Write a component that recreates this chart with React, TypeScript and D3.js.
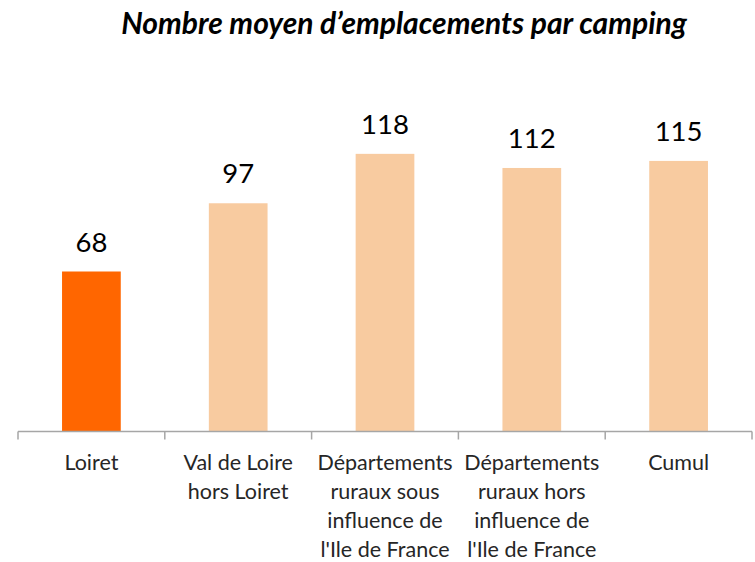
import React, { useEffect, useRef } from 'react';
import * as d3 from 'd3';

// chart data
const categories = [
  'Loiret',
  'Val de Loire hors Loiret',
  'Départements ruraux sous influence de l\'Ile de France',
  'Départements ruraux hors influence de l\'Ile de France',
  'Cumul',
];
const labelLines = [
  ['Loiret'],
  ['Val de Loire', 'hors Loiret'],
  ['Départements', 'ruraux sous', 'influence de', 'l\'Ile de France'],
  ['Départements', 'ruraux hors', 'influence de', 'l\'Ile de France'],
  ['Cumul'],
];
const values = [68, 97, 118, 112, 115];
const barColors = ['#ff6600', '#f8cba0', '#f8cba0', '#f8cba0', '#f8cba0'];
const title = 'Nombre moyen d\u2019emplacements par camping';

const W = 755;
const H = 562;
const FONT = 'Lato, "Open Sans", sans-serif';

const App: React.FC = () => {
  const svgRef = useRef<SVGSVGElement>(null);

  useEffect(() => {
    if (!svgRef.current) return;
    const svg = d3.select(svgRef.current);
    svg.selectAll('*').remove();

    const x0 = 18, x1 = 752, baseY = 431.5;

    const x = d3.scaleBand<string>()
      .domain(categories)
      .range([x0, x1])
      .paddingInner(0.6)
      .paddingOuter(0.3);

    // px per unit: 68 -> 160px
    const y = d3.scaleLinear().domain([0, 140]).range([baseY, baseY - 140 * (160 / 68)]);

    svg.append('text')
      .attr('x', 404)
      .attr('y', 34)
      .attr('text-anchor', 'middle')
      .attr('font-family', FONT)
      .attr('font-weight', 'bold')
      .attr('font-style', 'italic')
      .attr('font-size', 30)
      .text(title);

    svg.selectAll('rect.bar')
      .data(values)
      .enter().append('rect')
      .attr('class', 'bar')
      .attr('x', (_d, i) => x(categories[i])!)
      .attr('width', x.bandwidth())
      .attr('y', d => y(d))
      .attr('height', d => baseY - y(d))
      .attr('fill', (_d, i) => barColors[i]);

    svg.selectAll('text.val')
      .data(values)
      .enter().append('text')
      .attr('class', 'val')
      .attr('x', (_d, i) => x(categories[i])! + x.bandwidth() / 2)
      .attr('y', d => y(d) - 20)
      .attr('text-anchor', 'middle')
      .attr('font-family', FONT)
      .attr('font-size', 27.5)
      .attr('fill', '#000')
      .text(d => d);

    // axis line and boundary ticks
    const step = (x1 - x0) / categories.length;
    const axisColor = '#a6a6a6';
    svg.append('line')
      .attr('x1', x0).attr('x2', x1)
      .attr('y1', baseY).attr('y2', baseY)
      .attr('stroke', axisColor).attr('stroke-width', 1.5);
    d3.range(categories.length + 1).forEach(i => {
      const tx = x0 + i * step;
      svg.append('line')
        .attr('x1', tx).attr('x2', tx)
        .attr('y1', baseY).attr('y2', baseY + 8)
        .attr('stroke', axisColor).attr('stroke-width', 1.5);
    });

    const lbl = svg.selectAll('text.cat')
      .data(labelLines)
      .enter().append('text')
      .attr('class', 'cat')
      .attr('text-anchor', 'middle')
      .attr('font-family', FONT)
      .attr('font-size', 21.5)
      .attr('fill', '#262626');
    lbl.selectAll('tspan')
      .data((d, i) => d.map(t => ({ t, i })))
      .enter().append('tspan')
      .attr('x', d => x(categories[d.i])! + x.bandwidth() / 2)
      .attr('y', (_d, j) => 470 + j * 29)
      .text(d => d.t);
  }, []);

  return (
    <svg ref={svgRef} width={W} height={H} style={{ position: 'absolute', left: 0, top: 0 }} />
  );
};

export default App;
